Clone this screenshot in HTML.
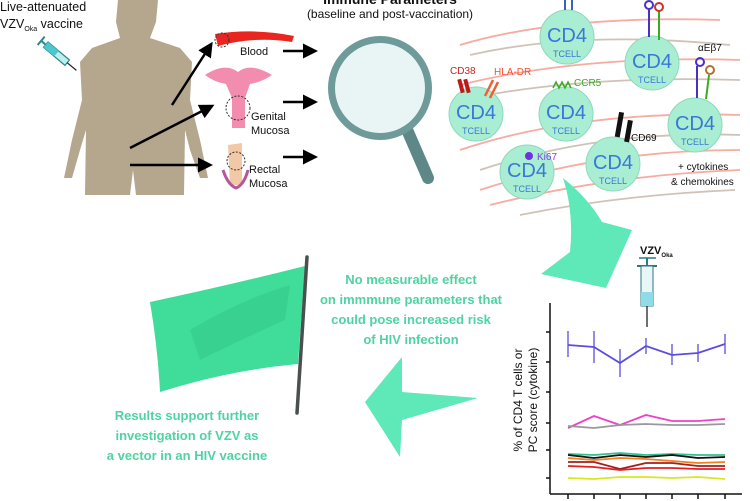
<!DOCTYPE html>
<html><head><meta charset="utf-8"><style>
html,body{margin:0;padding:0;background:#fff;width:750px;height:501px;overflow:hidden}
svg{display:block}
text{font-family:"Liberation Sans",sans-serif}
</style></head><body>
<svg width="750" height="501" viewBox="0 0 750 501" xmlns="http://www.w3.org/2000/svg">
<defs>
<marker id="ah" markerWidth="6" markerHeight="6" refX="4" refY="3" orient="auto"><path d="M0,0 L6,3 L0,6 z" fill="#000"/></marker>
</defs>
<path d="M118,0 L158,0 L156,22 L150,38 L180,48 L192,62 L190,100 L200,140 L208,178 L200,178 L190,150 L185,130 L184,195 L136,195 L133,170 L130,195 L85,195 L86,130 L80,150 L72,178 L64,178 L72,140 L82,100 L80,62 L92,48 L120,38 L116,22 Z" fill="#b5a68e"/>
<g transform="translate(48,42) rotate(40)">
<rect x="0" y="0" width="28" height="7" fill="#bfeef0" stroke="#2a8a8a" stroke-width="1.2"/>
<rect x="0" y="0" width="14" height="7" fill="#4cc7d0"/>
<line x1="28" y1="3.5" x2="40" y2="3.5" stroke="#222" stroke-width="1.2"/>
<line x1="-6" y1="3.5" x2="0" y2="3.5" stroke="#2a8a8a" stroke-width="2"/>
<line x1="-6" y1="-2" x2="-6" y2="9" stroke="#2a8a8a" stroke-width="2"/>
</g>
<text x="0" y="11" font-size="12.5" fill="#111">Live-attenuated</text>
<text x="0" y="28" font-size="12.5" fill="#111">VZV<tspan font-size="7" dy="3">Oka</tspan><tspan dy="-3"> vaccine</tspan></text>
<path d="M215,34 Q255,28 294,36 L292,42 Q255,36 218,46 Z" fill="#e8251f"/>
<circle cx="222" cy="40" r="7" fill="none" stroke="#333" stroke-dasharray="2,1.5"/>
<text x="240" y="55" font-size="11" fill="#111">Blood</text>
<path d="M205,75 Q225,62 238,72 Q250,62 272,75 Q262,82 250,84 L245,98 L245,128 L232,128 L232,98 L226,84 Q214,82 205,75 Z" fill="#f38db0"/>
<circle cx="238" cy="108" r="12" fill="none" stroke="#333" stroke-dasharray="2,1.5"/>
<text x="251" y="120" font-size="11" fill="#111">Genital</text>
<text x="251" y="134" font-size="11" fill="#111">Mucosa</text>
<path d="M228,145 L242,143 L242,185 L230,185 Z" fill="#f2c9a6"/>
<path d="M223,170 Q228,185 236,188 Q244,185 248,170" fill="none" stroke="#b5579a" stroke-width="3"/>
<circle cx="236" cy="161" r="9" fill="none" stroke="#333" stroke-dasharray="2,1.5"/>
<text x="249" y="173" font-size="11" fill="#111">Rectal</text>
<text x="249" y="187" font-size="11" fill="#111">Mucosa</text>
<g stroke="#000" stroke-width="2.5" marker-end="url(#ah)">
<line x1="172" y1="105" x2="210" y2="46"/>
<line x1="130" y1="148" x2="210" y2="107"/>
<line x1="130" y1="165" x2="208" y2="165"/>
<line x1="283" y1="51" x2="313" y2="51"/>
<line x1="283" y1="102" x2="313" y2="102"/>
<line x1="283" y1="157" x2="313" y2="157"/>
</g>
<text x="390" y="4" font-size="14" font-weight="bold" text-anchor="middle" fill="#111">Immune Parameters</text>
<text x="390" y="18" font-size="12" text-anchor="middle" fill="#111">(baseline and post-vaccination)</text>
<line x1="405" y1="125" x2="428" y2="178" stroke="#5e8888" stroke-width="12" stroke-linecap="round"/>
<circle cx="380" cy="88" r="52" fill="#6e9a9a"/>
<circle cx="380" cy="88" r="45" fill="#e9f4f4"/>
<g fill="none" stroke-width="1.8" opacity="0.7">
<path d="M460,45 Q560,15 720,20" stroke="#f28a7a"/>
<path d="M470,55 Q580,30 730,45" stroke="#bbaa99"/>
<path d="M460,85 Q580,55 740,60" stroke="#f28a7a"/>
<path d="M470,98 Q590,75 740,80" stroke="#bbaa99"/>
<path d="M460,150 Q580,110 740,115" stroke="#f28a7a"/>
<path d="M480,170 Q600,130 740,135" stroke="#bbaa99"/>
<path d="M480,190 Q600,150 740,150" stroke="#f28a7a"/>
<path d="M490,205 Q610,175 740,170" stroke="#f28a7a"/>
<path d="M520,215 Q620,195 735,190" stroke="#bbaa99"/>
</g>
<g>
<circle cx="567" cy="37" r="27" fill="#a9edd2" stroke="#8fd9bd"/>
<circle cx="652" cy="63" r="27" fill="#a9edd2" stroke="#8fd9bd"/>
<circle cx="476" cy="114" r="27" fill="#a9edd2" stroke="#8fd9bd"/>
<circle cx="566" cy="114" r="27" fill="#a9edd2" stroke="#8fd9bd"/>
<circle cx="695" cy="125" r="27" fill="#a9edd2" stroke="#8fd9bd"/>
<circle cx="613" cy="164" r="27" fill="#a9edd2" stroke="#8fd9bd"/>
<circle cx="527" cy="172" r="27" fill="#a9edd2" stroke="#8fd9bd"/>
</g>
<g fill="#3a78d8" text-anchor="middle">
<text x="567" y="42" font-size="20">CD4</text><text x="567" y="57" font-size="9">TCELL</text>
<text x="652" y="68" font-size="20">CD4</text><text x="652" y="83" font-size="9">TCELL</text>
<text x="476" y="119" font-size="20">CD4</text><text x="476" y="134" font-size="9">TCELL</text>
<text x="566" y="119" font-size="20">CD4</text><text x="566" y="134" font-size="9">TCELL</text>
<text x="695" y="130" font-size="20">CD4</text><text x="695" y="145" font-size="9">TCELL</text>
<text x="613" y="169" font-size="20">CD4</text><text x="613" y="184" font-size="9">TCELL</text>
<text x="527" y="177" font-size="20">CD4</text><text x="527" y="192" font-size="9">TCELL</text>
</g>
<rect x="459" y="79" width="4" height="14" fill="#c01818" transform="rotate(-15 461 86)"/>
<rect x="465" y="79" width="4" height="14" fill="#c01818" transform="rotate(-15 467 86)"/>
<path d="M485,96 L493,80 M490,98 L498,82" stroke="#f06030" stroke-width="2.5" fill="none"/>
<path d="M553,88 l3,-6 l3,6 l3,-6 l3,6 l3,-6 l3,6" stroke="#3aaa20" stroke-width="1.5" fill="none"/>
<circle cx="529" cy="156" r="4" fill="#7030e0"/>
<rect x="617" y="112" width="5" height="25" fill="#111" transform="rotate(10 619 124)"/>
<rect x="626" y="120" width="5" height="22" fill="#111" transform="rotate(10 628 131)"/>
<g fill="none" stroke-width="2">
<path d="M649,37 L649,8" stroke="#4a30c8"/><circle cx="649" cy="5" r="4" stroke="#4a30c8"/>
<path d="M659,40 L659,10" stroke="#3aaa20"/><circle cx="659" cy="7" r="4" stroke="#d03030"/>
<path d="M697,98 L697,66" stroke="#4a30c8"/><circle cx="700" cy="62" r="4" stroke="#4a30c8"/>
<path d="M706,99 L709,75" stroke="#3aaa20"/><circle cx="710" cy="70" r="4" stroke="#b07030"/>
<path d="M565,10 L565,0 M572,10 L572,0" stroke="#3a60c0"/>
</g>
<text x="450" y="74" font-size="10" fill="#d02020">CD38</text>
<text x="494" y="75" font-size="10" fill="#f05030">HLA-DR</text>
<text x="574" y="86" font-size="10" fill="#3aaa20">CCR5</text>
<text x="537" y="160" font-size="10" fill="#8040e0">Ki67</text>
<text x="631" y="141" font-size="10" fill="#111">CD69</text>
<text x="698" y="51" font-size="10" fill="#111">αEβ7</text>
<text x="678" y="170" font-size="10" fill="#111">+ cytokines</text>
<text x="671" y="185" font-size="10" fill="#111">&amp; chemokines</text>
<path d="M563,178 Q588,198 602,222 L632,230 L606,288 L541,274 L570,252 Q574,212 563,178 Z" fill="#5fe8b8"/>
<text x="640" y="254" font-size="11" font-weight="bold" fill="#111">VZV<tspan font-size="6" dy="3">Oka</tspan></text>
<line x1="639" y1="258" x2="656" y2="258" stroke="#2a7a80" stroke-width="1.5"/>
<line x1="647" y1="258" x2="647" y2="265" stroke="#2a7a80" stroke-width="2"/>
<line x1="637" y1="266" x2="657" y2="266" stroke="#2a7a80" stroke-width="2"/>
<rect x="641" y="266" width="12" height="40" fill="#e8f6f8" stroke="#2a7a80"/>
<rect x="641" y="292" width="12" height="14" fill="#8fdce8"/>
<line x1="647" y1="306" x2="647" y2="327" stroke="#111" stroke-width="1.2"/>
<g stroke="#111" stroke-width="1.5">
<line x1="550" y1="303" x2="550" y2="494"/>
<line x1="550" y1="494" x2="742" y2="494"/>
<line x1="546" y1="332" x2="550" y2="332"/><line x1="546" y1="362" x2="550" y2="362"/>
<line x1="546" y1="392" x2="550" y2="392"/><line x1="546" y1="423" x2="550" y2="423"/>
<line x1="546" y1="450" x2="550" y2="450"/><line x1="546" y1="478" x2="550" y2="478"/>
<line x1="568" y1="494" x2="568" y2="499"/><line x1="594" y1="494" x2="594" y2="499"/><line x1="620" y1="494" x2="620" y2="499"/><line x1="646" y1="494" x2="646" y2="499"/><line x1="672" y1="494" x2="672" y2="499"/><line x1="698" y1="494" x2="698" y2="499"/><line x1="725" y1="494" x2="725" y2="499"/>
</g>
<text transform="translate(522,400) rotate(-90)" font-size="12" text-anchor="middle" fill="#111">% of CD4 T cells or</text>
<text transform="translate(537,400) rotate(-90)" font-size="12" text-anchor="middle" fill="#111">PC score (cytokine)</text>
<g fill="none" stroke-width="1.8">
<polyline points="568,345 594,347 620,363 646,346 672,355 698,353 725,344" stroke="#5b4de0"/>
<g stroke="#5b4de0" stroke-width="1.3"><line x1="568" y1="331" x2="568" y2="357"/><line x1="594" y1="331" x2="594" y2="363"/><line x1="620" y1="349" x2="620" y2="377"/><line x1="646" y1="338" x2="646" y2="354"/><line x1="672" y1="344" x2="672" y2="365"/><line x1="698" y1="344" x2="698" y2="362"/><line x1="725" y1="334" x2="725" y2="354"/></g>
<polyline points="568,428 594,416 620,425 646,415 672,421 698,421 725,419" stroke="#f040c8"/>
<polyline points="568,426 594,428 620,425 646,424 672,425 698,425 725,424" stroke="#999"/>
<polyline points="568,454 594,455 620,453 646,455 672,454 698,455 725,455" stroke="#30c090"/>
<polyline points="568,455 594,458 620,455 646,457 672,455 698,458 725,457" stroke="#111"/>
<polyline points="568,458 594,460 620,458 646,459 672,461 698,463 725,462" stroke="#f08020"/>
<polyline points="568,462 594,462 620,469 646,463 672,463 698,466 725,466" stroke="#a02020"/>
<polyline points="568,466 594,467 620,470 646,468 672,468 698,469 725,469" stroke="#e02020"/>
<polyline points="568,478 594,479 620,477 646,477 672,478 698,477 725,479" stroke="#d8e820"/>
</g>
<path d="M150,302 Q230,285 305,266 L298,364 Q230,370 160,392 Q158,350 150,302 Z" fill="#3fdc9a"/>
<path d="M190,330 Q240,300 290,285 L285,320 Q240,340 200,360 Z" fill="#36c98b" opacity="0.6"/>
<line x1="307" y1="257" x2="297" y2="413" stroke="#4a4f50" stroke-width="3.5" stroke-linecap="round"/>
<path d="M365,402 L402,357 L402,392 L478,398 L402,420 L400,457 Z" fill="#5fe8b8"/>
<g fill="#4fd3a3" font-weight="bold" font-size="13" text-anchor="middle">
<text x="411" y="284">No measurable effect</text>
<text x="411" y="304">on immmune parameters that</text>
<text x="411" y="324">could pose increased risk</text>
<text x="411" y="344">of  HIV infection</text>
<text x="187" y="420">Results support further</text>
<text x="187" y="440">investigation of VZV as</text>
<text x="187" y="460">a vector in an HIV vaccine</text>
</g>
</svg>
</body></html>
